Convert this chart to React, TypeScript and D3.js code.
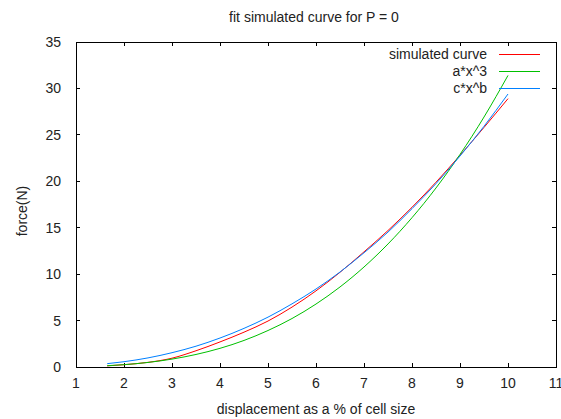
import React from "react";
import * as d3 from "d3";

const title = "fit simulated curve for P = 0";
const xLabel = "displacement as a % of cell size";
const yLabel = "force(N)";

const xTicks = [1, 2, 3, 4, 5, 6, 7, 8, 9, 10, 11];
const yTicks = [0, 5, 10, 15, 20, 25, 30, 35];

const xs = [1.65, 2, 2.5, 3, 3.5, 4, 4.5, 5, 5.5, 6, 6.5, 7, 7.5, 8, 8.5, 9, 9.5, 10];
const simulated = [0.12, 0.25, 0.5, 0.95, 1.75, 2.7, 3.75, 4.95, 6.45, 8.2, 10.2, 12.4, 14.7, 17.2, 19.9, 22.8, 25.8, 28.9];
const cubic = [0.14, 0.25, 0.49, 0.85, 1.35, 2.01, 2.86, 3.93, 5.22, 6.78, 8.62, 10.77, 13.25, 16.08, 19.28, 22.89, 26.92, 31.4];
const power = [0.36, 0.57, 0.98, 1.54, 2.24, 3.12, 4.16, 5.37, 6.8, 8.4, 10.23, 12.3, 14.53, 17.05, 19.75, 22.72, 25.92, 29.4];

const seriesNames = ["simulated curve", "a*x^3", "c*x^b"];
const seriesColors = ["#ff0000", "#00c000", "#0080ff"];
const seriesValues = [simulated, cubic, power];

const W = 561;
const H = 419;
const M = { left: 76, right: 556, top: 42, bottom: 367 };
const FONT = "'Liberation Sans', Arial, sans-serif";
const FS = 14;
const TXT = "#222";

export default function App() {
  const x = d3.scaleLinear().domain([1, 11]).range([M.left, M.right]);
  const y = d3.scaleLinear().domain([0, 35]).range([M.bottom, M.top]);
  const tl = 4;

  const lineGen = d3
    .line<[number, number]>()
    .x((d) => x(d[0]))
    .y((d) => y(d[1]))
    .curve(d3.curveMonotoneX);

  return (
    <svg
      width={W}
      height={H}
      style={{ position: "absolute", left: 0, top: 0, background: "#fff" }}
      fontFamily={FONT}
    >
      <rect x={0} y={0} width={W} height={H} fill="#fff" />
      <text x={314} y={22} textAnchor="middle" fontSize={FS} fill={TXT}>
        {title}
      </text>
      {/* ticks */}
      <g stroke="#000" strokeWidth={1} shapeRendering="crispEdges">
        {xTicks.map((t) => (
          <g key={"xt" + t}>
            <line x1={x(t)} x2={x(t)} y1={M.bottom} y2={M.bottom - tl} />
            <line x1={x(t)} x2={x(t)} y1={M.top} y2={M.top + tl} />
          </g>
        ))}
        {yTicks.map((t) => (
          <g key={"yt" + t}>
            <line x1={M.left} x2={M.left + tl} y1={y(t)} y2={y(t)} />
            <line x1={M.right} x2={M.right - tl} y1={y(t)} y2={y(t)} />
          </g>
        ))}
      </g>
      {/* tick labels */}
      {xTicks.map((t) => (
        <text key={"xl" + t} x={x(t)} y={388} textAnchor="middle" fontSize={FS} fill={TXT}>
          {t}
        </text>
      ))}
      {yTicks.map((t) => (
        <text key={"yl" + t} x={61} y={y(t) + 5} textAnchor="end" fontSize={FS} fill={TXT}>
          {t}
        </text>
      ))}
      {/* axis labels */}
      <text x={(M.left + M.right) / 2} y={414} textAnchor="middle" fontSize={FS} fill={TXT}>
        {xLabel}
      </text>
      <text
        transform={`translate(27, 211) rotate(-90)`}
        textAnchor="middle"
        fontSize={FS}
        fill={TXT}
      >
        {yLabel}
      </text>
      {/* curves */}
      <defs>
        <clipPath id="clip">
          <rect x={M.left} y={M.top} width={M.right - M.left} height={M.bottom - M.top} />
        </clipPath>
      </defs>
      <g clipPath="url(#clip)">
        {seriesValues.map((vals, i) => (
          <path
            key={"s" + i}
            d={lineGen(xs.map((xv, j) => [xv, vals[j]] as [number, number])) || ""}
            fill="none"
            stroke={seriesColors[i]}
            strokeWidth={1}
          />
        ))}
      </g>
      {/* legend */}
      {seriesNames.map((n, i) => (
        <g key={"lg" + i}>
          <text x={487} y={54 + i * 17 + 4.5} textAnchor="end" fontSize={FS} fill={TXT}>
            {n}
          </text>
          <line
            x1={499}
            x2={540}
            y1={54 + i * 17}
            y2={54 + i * 17}
            stroke={seriesColors[i]}
            strokeWidth={1}
            shapeRendering="crispEdges"
          />
        </g>
      ))}
      {/* border */}
      <rect
        x={M.left}
        y={M.top}
        width={M.right - M.left}
        height={M.bottom - M.top}
        fill="none"
        stroke="#000"
        strokeWidth={1}
        shapeRendering="crispEdges"
      />
    </svg>
  );
}
